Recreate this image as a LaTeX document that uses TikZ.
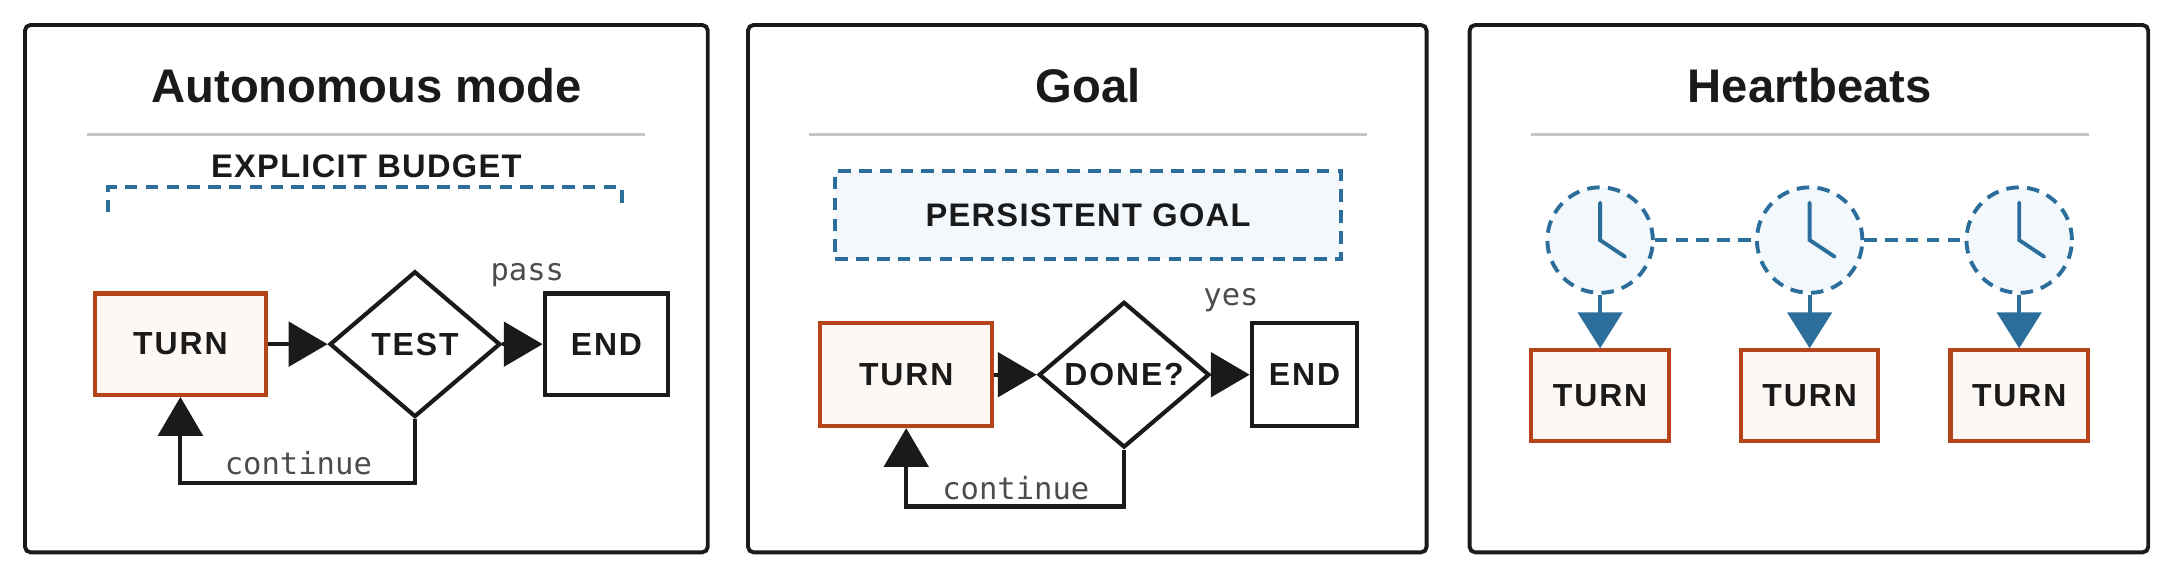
\documentclass[tikz,border=0pt]{standalone}
\usepackage{fontspec}
\setmainfont{Liberation Sans}
\newfontfamily\monof{DejaVu Sans Mono}
\usetikzlibrary{arrows.meta,shapes.geometric}
\definecolor{ora}{HTML}{B5441A}
\definecolor{orf}{HTML}{FEF8F4}
\definecolor{blu}{HTML}{2C6E9B}
\definecolor{blf}{HTML}{F2F8FB}
\definecolor{ink}{HTML}{1A1A1A}
\begin{document}
\begin{tikzpicture}[x=1pt,y=-1pt,
 panel/.style={draw=ink,line width=2.8pt,rounded corners=4pt},
 title/.style={font=\bfseries\fontsize{34}{36}\selectfont,text=ink},
 rule/.style={draw=black!22,line width=1.8pt},
 lbl/.style={font=\bfseries\addfontfeature{LetterSpace=4}\fontsize{23.5}{25}\selectfont,text=ink},
 bx/.style={font=\bfseries\addfontfeature{LetterSpace=6}\fontsize{23}{24}\selectfont,text=ink},
 turn/.style={bx,draw=ora,fill=orf,line width=3pt,minimum width=#1,inner sep=0pt},
 endb/.style={bx,draw=ink,fill=white,line width=3pt,minimum height=73pt,minimum width=#1,inner sep=0pt},
 dia/.style={bx,diamond,draw=ink,fill=white,line width=3pt,minimum width=123pt,minimum height=105pt,inner sep=0pt},
 arr/.style={draw=ink,line width=3pt,-{Triangle[length=28pt,width=32pt]}},
 ed/.style={font=\monof\fontsize{22}{24}\selectfont,text=black!70},
 dsh/.style={draw=blu,line width=2.8pt,dash pattern=on 9pt off 6pt},
 clock/.style={circle,dsh,fill=blf,minimum size=76pt,inner sep=0pt},
 barr/.style={draw=blu,line width=2.8pt,-{Triangle[length=26pt,width=32pt]}}
]
\useasboundingbox (0,0) rectangle (1568,418);
% panels
\draw[panel] (18,18) rectangle (510,398);
\draw[panel] (539,18) rectangle (1028,398);
\draw[panel] (1059,18) rectangle (1548,398);
\node[title] (t1) at (264,62) {Autonomous mode};
\node[title] (t2) at (784,62) {Goal};
\node[title] (t3) at (1304,62) {Heartbeats};
\draw[rule] (63,97) -- (465,97);
\draw[rule] (583,97) -- (985,97);
\draw[rule] (1103,97) -- (1505,97);
% panel 1
\node[lbl] (eb) at (264,120) {EXPLICIT BUDGET};
\draw[dsh] (78,153) -- (78,135) -- (448,135) -- (448,150);
\node[turn=123pt,minimum height=73pt] (a1) at (130,248) {TURN};
\node[dia] (d1) at (299,248) {TEST};
\node[endb=89pt] (e1) at (437,248) {END};
\draw[arr] (a1) -- (d1);
\draw[arr] (d1) -- (e1);
\node[ed] (p1) at (380,198) {pass};
\draw[arr] (d1.south) -- (299,348) -- (130,348) -- (a1.south);
\node[ed] (c1) at (215,334) {continue};
% panel 2
\node[dsh,fill=blf,minimum width=364pt,minimum height=63pt,lbl] (pg) at (784,155) {PERSISTENT GOAL};
\node[turn=124pt,minimum height=74pt] (a2) at (653,270) {TURN};
\node[dia] (d2) at (810,270) {DONE?};
\node[endb=76pt,minimum height=74pt] (e2) at (940,270) {END};
\draw[arr] (a2) -- (d2);
\draw[arr] (d2) -- (e2);
\node[ed] (y2) at (887,216) {yes};
\draw[arr] (d2.south) -- (810,365) -- (653,365) -- (a2.south);
\node[ed] (c2) at (732,352) {continue};
% panel 3
\foreach \i/\x in {1/1153,2/1304,3/1455}{
 \node[clock] (k\i) at (\x,173) {};
 \draw[blu,line width=2.8pt,line cap=round] (\x,146) -- (\x,173) -- (\x+18,185);
 \node[turn=99pt,minimum height=65pt] (b\i) at (\x,285) {TURN};
 \draw[barr] (k\i) -- (b\i);
}
\draw[dsh] (k1) -- (k2);
\draw[dsh] (k2) -- (k3);
\end{tikzpicture}
\end{document}
